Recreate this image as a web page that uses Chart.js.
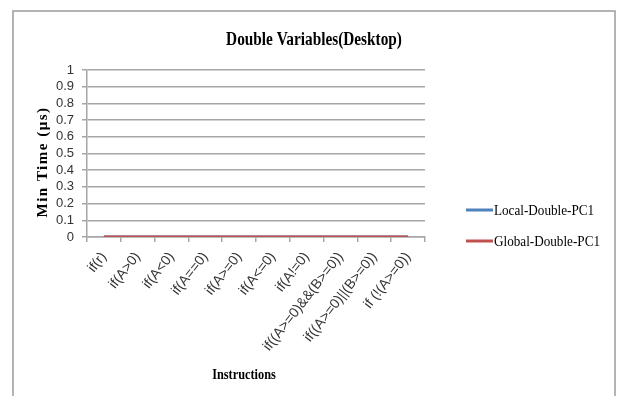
<!DOCTYPE html>
<html>
<head>
<meta charset="utf-8">
<script src="https://cdn.jsdelivr.net/npm/chart.js@4/dist/chart.umd.min.js"></script>
<style>
  html, body { margin: 0; padding: 0; background: #ffffff; }
  #wrap { width: 618px; height: 396px; }
</style>
</head>
<body>
<div id="wrap"><canvas id="c" width="618" height="396"></canvas></div>
<script>
// Instruction categories on the x axis
const instructions = [
  'if(r)', 'if(A>0)', 'if(A<0)', 'if(A==0)', 'if(A>=0)', 'if(A<=0)',
  'if(A!=0)', 'if((A>=0)&&(B>=0))', 'if((A>=0)||(B>=0))', 'if (!(A>=0))'
];
// Minimum time in microseconds per instruction
const localDoublePC1  = [0, 0, 0, 0, 0, 0, 0, 0, 0, 0];
const globalDoublePC1 = [0, 0, 0, 0, 0, 0, 0, 0, 0, 0];
// Value axis ticks
const yTicks = [0, 0.1, 0.2, 0.3, 0.4, 0.5, 0.6, 0.7, 0.8, 0.9, 1];

const chartTitle = 'Double Variables(Desktop)';
const xTitle = 'Instructions';
const yTitle = 'Min Time (\u03bcs)';

const serif = '"Liberation Serif", "DejaVu Serif", serif';
const sans = '"Liberation Sans", Arial, sans-serif';

// Frame, titles and legend drawn around the plot
const decorations = {
  id: 'decorations',
  beforeDraw(chart) {
    const ctx = chart.ctx;
    ctx.save();
    ctx.fillStyle = '#ffffff';
    ctx.fillRect(0, 0, chart.width, chart.height);
    ctx.strokeStyle = '#9a9a9a';
    ctx.lineWidth = 1.5;
    ctx.strokeRect(13, 11, 602, 400);
    ctx.restore();
  },
  afterDraw(chart) {
    const ctx = chart.ctx;
    const area = chart.chartArea;
    ctx.save();
    ctx.fillStyle = '#000000';
    ctx.textAlign = 'center';
    ctx.textBaseline = 'middle';

    // chart title, condensed bold serif
    ctx.save();
    ctx.translate(314, 40);
    ctx.scale(0.85, 1);
    ctx.font = 'bold 18px ' + serif;
    ctx.fillText(chartTitle, 0, 0);
    ctx.restore();

    // x axis title
    ctx.save();
    ctx.translate((area.left + area.right) / 2 - 12, 375);
    ctx.scale(0.88, 1);
    ctx.font = 'bold 14px ' + serif;
    ctx.fillText(xTitle, 0, 0);
    ctx.restore();

    // y axis title, spaced bold serif
    ctx.save();
    ctx.translate(43, 162);
    ctx.rotate(-Math.PI / 2);
    ctx.font = 'bold 15px ' + serif;
    ctx.letterSpacing = '1.5px';
    ctx.fillText(yTitle, 0, 0);
    ctx.restore();

    // legend
    const rows = [210, 241];
    chart.data.datasets.forEach((ds, i) => {
      const y = rows[i];
      ctx.strokeStyle = ds.borderColor;
      ctx.lineWidth = 3;
      ctx.beginPath();
      ctx.moveTo(466, y);
      ctx.lineTo(493, y);
      ctx.stroke();
      ctx.save();
      ctx.translate(494, y + 1);
      ctx.scale(0.94, 1);
      ctx.textAlign = 'left';
      ctx.font = '14px ' + serif;
      ctx.fillStyle = '#000000';
      ctx.fillText(ds.label, 0, 0);
      ctx.restore();
    });
    ctx.restore();
  }
};

new Chart(document.getElementById('c'), {
  type: 'line',
  data: {
    labels: instructions,
    datasets: [
      {
        label: 'Local-Double-PC1',
        data: localDoublePC1,
        borderColor: '#4f81bd',
        backgroundColor: '#4f81bd',
        borderWidth: 3,
        pointRadius: 0,
        tension: 0,
        order: 1
      },
      {
        label: 'Global-Double-PC1',
        data: globalDoublePC1,
        borderColor: '#c0504d',
        backgroundColor: '#c0504d',
        borderWidth: 3,
        pointRadius: 0,
        tension: 0,
        order: 0
      }
    ]
  },
  options: {
    responsive: false,
    animation: false,
    devicePixelRatio: 1,
    layout: { padding: { left: 0, right: 193, top: 70, bottom: 0 } },
    plugins: {
      legend: { display: false },
      title: { display: false },
      tooltip: { enabled: false }
    },
    scales: {
      x: {
        offset: true,
        afterFit(scale) { scale.height = 159; },
        grid: {
          offset: true,
          drawOnChartArea: false,
          drawTicks: true,
          tickLength: 5,
          color: '#a6a6a6',
          lineWidth: 1.5
        },
        border: { color: '#a6a6a6', width: 1.5 },
        ticks: {
          autoSkip: false,
          minRotation: 52,
          maxRotation: 52,
          padding: 7,
          color: '#333333',
          font: { family: sans, size: 14 }
        }
      },
      y: {
        min: 0,
        max: 1,
        afterFit(scale) { scale.width = 87; },
        afterBuildTicks(scale) { scale.ticks = yTicks.map(v => ({ value: v })); },
        grid: {
          color: '#a6a6a6',
          lineWidth: 1.5,
          tickLength: 5
        },
        border: { color: '#a6a6a6', width: 1.5 },
        ticks: {
          autoSkip: false,
          padding: 8,
          color: '#333333',
          font: { family: sans, size: 13 },
          callback: v => String(v)
        }
      }
    }
  },
  plugins: [decorations]
});
</script>
</body>
</html>
